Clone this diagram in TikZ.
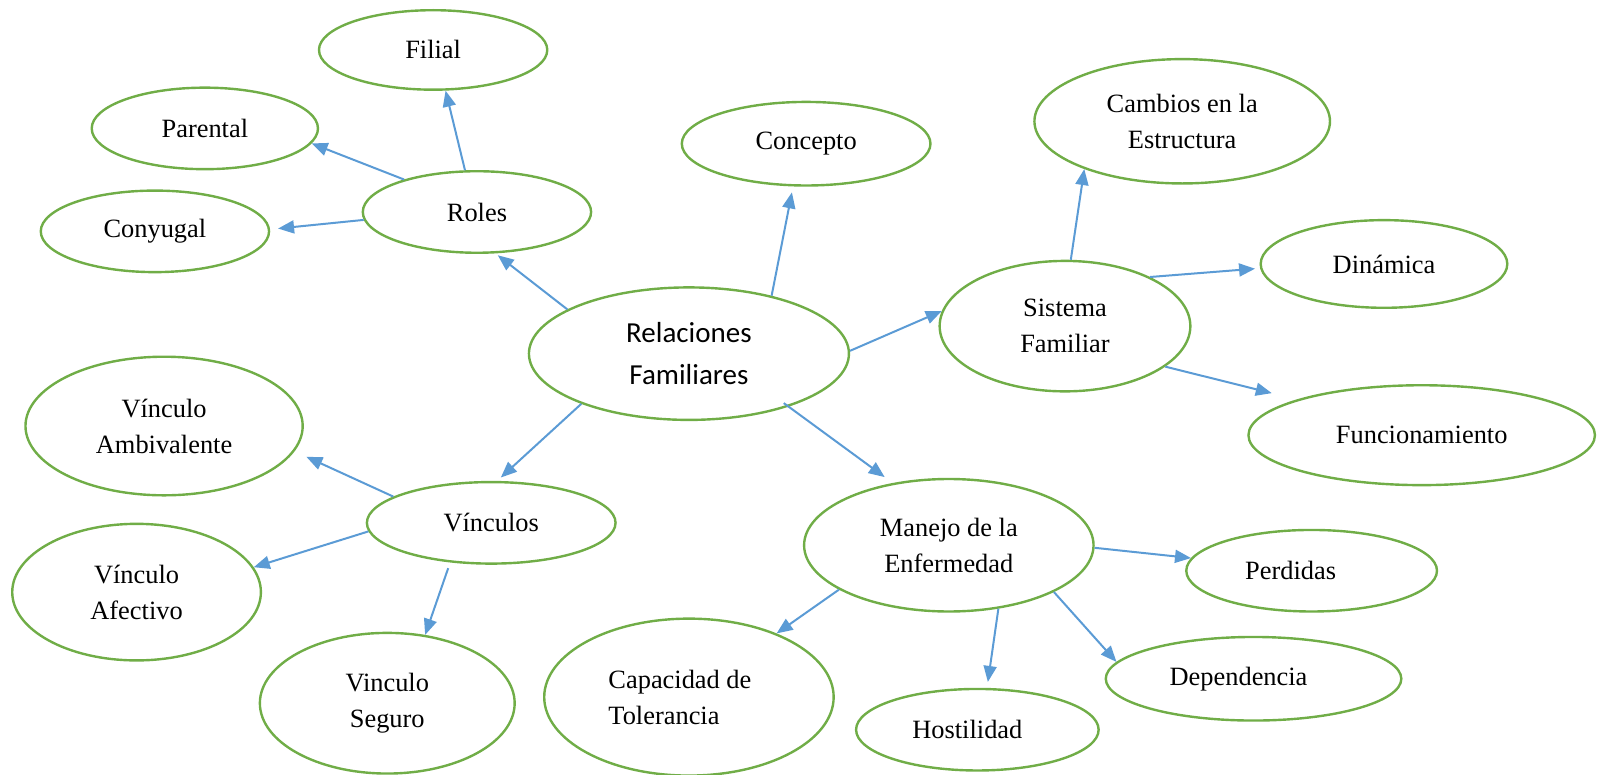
\documentclass[tikz,border=0pt]{standalone}
\usepackage{fontspec}
\setmainfont{Liberation Serif}
\newfontfamily\calibri{Carlito}
\usepackage{tikz}
\usetikzlibrary{arrows.meta,shapes.geometric}
\definecolor{ovalgreen}{HTML}{70AD47}
\definecolor{linkblue}{HTML}{5B9BD5}

\begin{document}
\begin{tikzpicture}[x=0.5096pt, y=-0.5096pt,
	every node/.style={font=\fontsize{13.2}{18}\selectfont},
	oval/.style 2 args={ellipse, draw=ovalgreen, line width=1.2pt, inner sep=0pt,
		minimum width=#1*1.0192pt, minimum height=#2*1.0192pt, align=center},
	nudge/.style={execute at begin node={\kern#1}},
	link/.style={draw=linkblue, line width=1pt, -{Triangle[length=8pt,width=6.5pt]}}]
	\useasboundingbox (0,0) rectangle (1568,760);
	\node[oval={157}{65}, font=\calibri\fontsize{14.5}{21}\selectfont] (rel) at (676,347) {Relaciones\\Familiares};
	\node[oval={112}{40}] (roles) at (468,208) {Roles};
	\node[oval={112}{39}] (fil) at (425,49) {Filial};
	\node[oval={111}{40}] (par) at (201,126) {Parental};
	\node[oval={112}{40}] (cony) at (152,227) {Conyugal};
	\node[oval={122}{41}] (con) at (791,141) {Concepto};
	\node[oval={123}{64}] (sys) at (1045,320) {Sistema\\Familiar};
	\node[oval={145}{61}] (cam) at (1160,119) {Cambios en la\\Estructura};
	\node[oval={121}{43}] (din) at (1358,259) {Dinámica};
	\node[oval={170}{49}] (fun) at (1395,427) {Funcionamiento};
	\node[oval={122}{40}] (vin) at (482,513) {Vínculos};
	\node[oval={136}{68}] (amb) at (161,418) {Vínculo\\Ambivalente};
	\node[oval={122}{67}] (afe) at (134,581) {Vínculo\\Afectivo};
	\node[oval={125}{69}] (seg) at (380,690) {Vinculo\\Seguro};
	\node[oval={142}{65}] (man) at (931,535) {Manejo de la\\Enfermedad};
	\node[oval={142}{77}, align=left] (cap) at (676,684) {\kern-9pt Capacidad de\\\kern-9pt Tolerancia};
	\node[oval={119}{40}, nudge=-10pt] (hos) at (959,716) {Hostilidad};
	\node[oval={145}{41}, nudge=-15pt] (dep) at (1230,666) {Dependencia};
	\node[oval={123}{40}, nudge=-21pt] (per) at (1287,560) {Perdidas};
	\draw[link, shorten >=1.5pt] (rel.160) -- (roles.294);
	\draw[link, shorten >=3pt] (rel.35) -- (con.253);
	\draw[link] (rel.1) -- (sys.173);
	\draw[link, shorten >=2.5pt] (rel.205) -- (vin.82);
	\draw[link, shorten >=5pt, shorten <=-3pt] (rel.332) -- (man.132);
	\draw[link] (roles.106) -- (fil.287);
	\draw[link] (roles.156) -- (par.352);
	\draw[link, shorten >=4pt] (roles.184) -- (cony.1);
	\draw[link] (sys.85) -- (cam.206);
	\draw[link, shorten >=2.5pt] (sys.30) -- (din.182);
	\draw[link, shorten >=13pt] (sys.338) -- (fun.164);
	\draw[link, shorten >=6.5pt] (vin.165) -- (amb.349);
	\draw[link] (vin.184) -- (afe.12);
	\draw[link, shorten <=3pt] (vin.224) -- (seg.61);
	\draw[link] (man.202) -- (cap.36);
	\draw[link, shorten >=3pt] (man.308) -- (hos.77);
	\draw[link] (man.336) -- (dep.173);
	\draw[link] (man.359) -- (per.174);
\end{tikzpicture}
\end{document}
